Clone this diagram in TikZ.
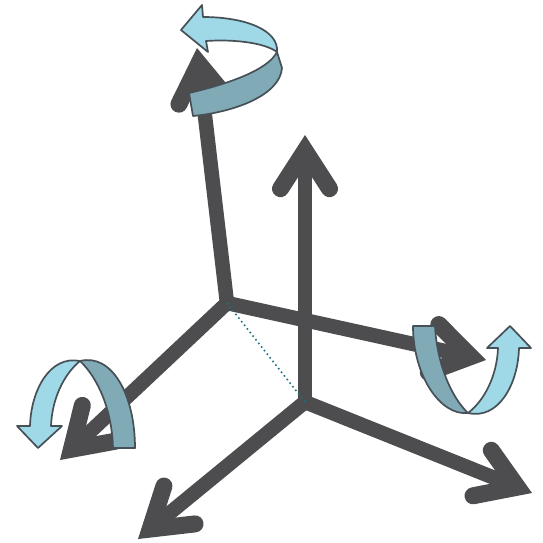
\documentclass[tikz,border=0pt]{standalone}
\usepackage{tikz}
\usetikzlibrary{arrows.meta}
\definecolor{axisgrey}{RGB}{77,77,79}
\definecolor{ribbonlight}{RGB}{159,216,231}
\definecolor{ribbondark}{RGB}{128,170,182}
\definecolor{ribbonedge}{RGB}{70,80,86}
\definecolor{linkteal}{RGB}{30,115,130}
\tikzset{
  axis/.style   = {draw=axisgrey, line width=14.5pt, -{Straight Barb[length=38pt,width=49pt,line width=17pt,line cap=round,line join=miter]}},
  front/.style  = {fill=ribbonlight, draw=ribbonedge, line width=1.7pt, line join=round},
  back/.style   = {fill=ribbondark, draw=ribbonedge, line width=1.7pt, line join=round},
  link/.style   = {draw=linkteal, line width=1.6pt, dash pattern=on 1.6pt off 3pt},
}
\begin{document}
\begin{tikzpicture}[x=1pt,y=-1pt]
\useasboundingbox (0,0) rectangle (543,542);

% ---- origins and axis ends
\coordinate (originA) at (227,303);
\coordinate (originB) at (305,402);
\coordinate (endAup) at (197,48);
\coordinate (endAright) at (486,360);
\coordinate (endAleft) at (60,460);
\coordinate (endBup) at (305,135);
\coordinate (endBright) at (532,493);
\coordinate (endBleft) at (138,539);

% ---- axes
\draw[axis] (originA) -- (endAup);
\draw[axis] (originA) -- (endAright);
\draw[axis] (originA) -- (endAleft);
\draw[axis] (originB) -- (endBup);
\draw[axis] (originB) -- (endBright);
\draw[axis] (originB) -- (endBleft);
\draw[link] (originA) -- (originB);

% ---- rotation ribbon, top
\draw[back] (189,93) .. controls (228,84) and (268,70) .. (277,52)
  -- (282,68) .. controls (280,95) and (235,112) .. (193,116) -- cycle;
\draw[front] (277,52) .. controls (279,30) and (245,17) .. (203,17)
  -- (202,5) -- (181,30) -- (208,52) -- (206,41)
  .. controls (235,39) and (265,43) .. (277,52) -- cycle;

% ---- rotation ribbon, right
\draw[back] (413,326) -- (435,326) .. controls (437,365) and (452,398) .. (468,413)
  .. controls (440,416) and (413,375) .. (413,326) -- cycle;
\draw[front] (468,413) .. controls (498,420) and (518,385) .. (519,348)
  -- (531,348) -- (510,326) -- (487,348) -- (498,348)
  .. controls (497,375) and (485,400) .. (468,413) -- cycle;

% ---- rotation ribbon, left
\draw[back] (135,448) -- (113,448) .. controls (112,410) and (98,378) .. (80,361)
  .. controls (112,353) and (135,395) .. (135,448) -- cycle;
\draw[front] (80,361) .. controls (50,355) and (31,390) .. (30,426)
  -- (17,426) -- (38,448) -- (62,426) -- (51,426)
  .. controls (52,400) and (63,375) .. (80,361) -- cycle;

\end{tikzpicture}
\end{document}
